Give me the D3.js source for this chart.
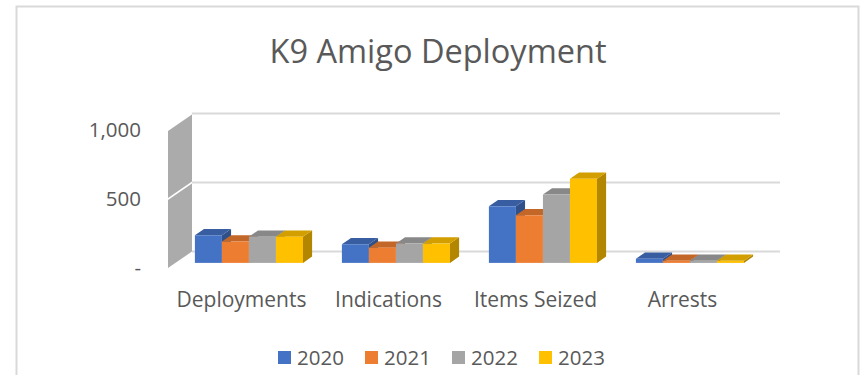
<!DOCTYPE html>
<html>
<head>
<meta charset="utf-8">
<script src="https://cdn.jsdelivr.net/npm/d3@7"></script>
<style>
  html, body { margin: 0; padding: 0; background: #fff; }
  svg { display: block; }
  text { font-family: "Open Sans", "Noto Sans", sans-serif; fill: #595959; }
</style>
</head>
<body>
<svg id="chart" width="867" height="375"></svg>
<script>
// Chart data
const categories = ["Deployments", "Indications", "Items Seized", "Arrests"];
const years = ["2020", "2021", "2022", "2023"];
const values2020 = [200, 135, 410, 30];
const values2021 = [155, 110, 345, 15];
const values2022 = [190, 140, 495, 15];
const values2023 = [190, 140, 610, 15];
const seriesValues = [values2020, values2021, values2022, values2023];
const yTicks = [0, 500, 1000];
const yTickLabels = ["-", "500", "1,000"];
const colors = ["#4472C4", "#ED7D31", "#A5A5A5", "#FFC000"];

const svg = d3.select("#chart");

// Chart frame
svg.append("rect")
  .attr("x", 16.5).attr("y", 6.5)
  .attr("width", 842).attr("height", 400)
  .attr("fill", "#fff")
  .attr("stroke", "#d9d9d9").attr("stroke-width", 2);

// Title
svg.append("text")
  .attr("x", 438).attr("y", 63)
  .attr("text-anchor", "middle")
  .style("font-size", "32.5px")
  .text("K9 Amigo Deployment");

// Oblique 3D projection: front plane + depth vector
const depth = { dx: 24, dy: -16.5 };
const front = { left: 168, right: 756 };

const x0 = d3.scaleBand().domain(categories).range([front.left, front.right]).padding(0);
const x1 = d3.scaleBand().domain(years).range([0, x0.bandwidth()]).paddingInner(0).paddingOuter(0.72);
const y = d3.scaleLinear().domain([0, 1000]).range([268, 130]);

// Side wall (left), split at each gridline
const wallG = svg.append("g");
for (let i = 0; i < yTicks.length - 1; i++) {
  const a = y(yTicks[i]), b = y(yTicks[i + 1]);
  const gap = i === 0 ? 0 : 1;
  wallG.append("path")
    .attr("d", `M${front.left},${a - gap} L${front.left + depth.dx},${a + depth.dy - gap} L${front.left + depth.dx},${b + depth.dy + 1} L${front.left},${b + 1} Z`)
    .attr("fill", "#ababab");
}

// Back wall gridlines
svg.append("g").selectAll("line")
  .data(yTicks)
  .join("line")
  .attr("x1", front.left + depth.dx)
  .attr("x2", front.right + depth.dx)
  .attr("y1", d => y(d) + depth.dy)
  .attr("y2", d => y(d) + depth.dy)
  .attr("stroke", "#d9d9d9")
  .attr("stroke-width", 2);

// Y axis labels (front plane)
svg.append("g").selectAll("text")
  .data(yTicks)
  .join("text")
  .attr("x", 141)
  .attr("y", d => y(d) + 7)
  .attr("text-anchor", "end")
  .style("font-size", "20.5px")
  .text((d, i) => yTickLabels[i]);

// Bars, placed in the middle of the floor depth
const barD0 = 0.31, barD1 = 0.69;
const bx = depth.dx * barD0, by = depth.dy * barD0;
const ddx = depth.dx * (barD1 - barD0), ddy = depth.dy * (barD1 - barD0);

const bars = [];
categories.forEach((c, ci) => {
  years.forEach((yr, si) => {
    bars.push({ cat: c, year: yr, si, value: seriesValues[si][ci] });
  });
});

const barG = svg.append("g");
bars.forEach(d => {
  const xl = x0(d.cat) + x1(d.year) + bx;
  const xr = xl + x1.bandwidth();
  const yb = y(0) + by;
  const yt = y(d.value) + by;
  const base = d3.color(colors[d.si]);
  const g = barG.append("g");
  // right face
  g.append("path")
    .attr("d", `M${xr},${yb} L${xr + ddx},${yb + ddy} L${xr + ddx},${yt + ddy} L${xr},${yt} Z`)
    .attr("fill", base.darker(1.0).formatHex());
  // top face
  g.append("path")
    .attr("d", `M${xl},${yt} L${xl + ddx},${yt + ddy} L${xr + ddx},${yt + ddy} L${xr},${yt} Z`)
    .attr("fill", base.darker(0.55).formatHex());
  // front face
  g.append("rect")
    .attr("x", xl).attr("y", yt)
    .attr("width", x1.bandwidth()).attr("height", yb - yt)
    .attr("fill", colors[d.si]);
});

// Category labels (front plane)
svg.append("g").selectAll("text")
  .data(categories)
  .join("text")
  .attr("x", d => x0(d) + x0.bandwidth() / 2)
  .attr("y", 307)
  .attr("text-anchor", "middle")
  .style("font-size", "21px")
  .text(d => d);

// Legend
const legend = svg.append("g");
const legX = d3.scalePoint().domain(years).range([278, 539]);
years.forEach((yr, i) => {
  legend.append("rect")
    .attr("x", legX(yr)).attr("y", 351)
    .attr("width", 13).attr("height", 13)
    .attr("fill", colors[i]);
  legend.append("text")
    .attr("x", legX(yr) + 19).attr("y", 365)
    .style("font-size", "20.5px")
    .text(yr);
});
</script>
</body>
</html>
